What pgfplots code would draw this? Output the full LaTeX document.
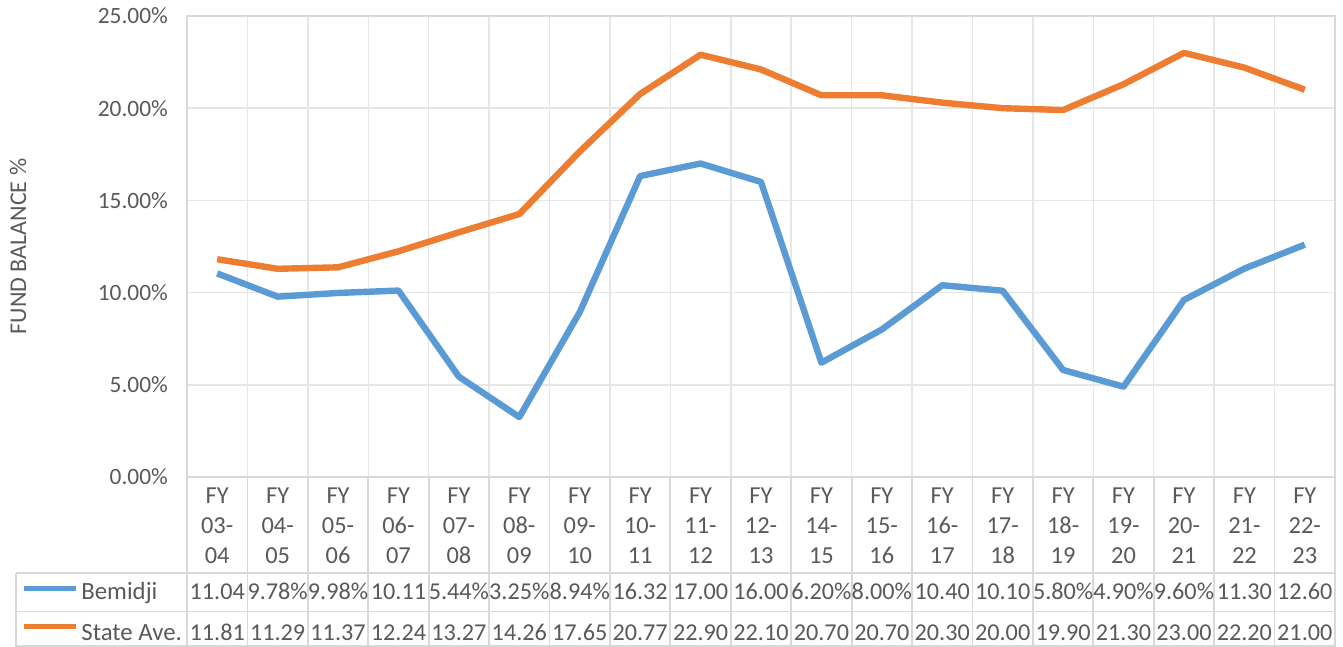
\documentclass[border=0pt]{standalone}
\usepackage{fontspec}
\setmainfont{Carlito}
\usepackage{pgfplots}
\pgfplotsset{compat=1.18}
\definecolor{bemblue}{HTML}{5B9BD5}
\definecolor{stateorange}{HTML}{ED7D31}
\definecolor{txtgray}{HTML}{595959}
\definecolor{gridgray}{HTML}{E6E6E6}
\definecolor{tablegray}{HTML}{D9D9D9}

\begin{document}
\begin{tikzpicture}
\begin{axis}[
  scale only axis,
  width=574pt, height=230.5pt,
  xmin=-0.5, xmax=18.5,
  ymin=0, ymax=25,
  xtick={0,...,18},
  xticklabels={{FY\\03-\\04},{FY\\04-\\05},{FY\\05-\\06},{FY\\06-\\07},{FY\\07-\\08},
    {FY\\08-\\09},{FY\\09-\\10},{FY\\10-\\11},{FY\\11-\\12},{FY\\12-\\13},
    {FY\\14-\\15},{FY\\15-\\16},{FY\\16-\\17},{FY\\17-\\18},{FY\\18-\\19},
    {FY\\19-\\20},{FY\\20-\\21},{FY\\21-\\22},{FY\\22-\\23}},
  minor xtick={-0.5,0.5,...,18.5},
  ytick={0,5,...,25},
  yticklabel={\pgfmathprintnumber[fixed,fixed zerofill,precision=2]{\tick}\%},
  /pgf/number format/assume math mode=true,
  major tick length=0pt, minor tick length=0pt,
  xminorgrids, ymajorgrids,
  minor grid style={gridgray, line width=0.75pt},
  major grid style={gridgray, line width=0.75pt},
  axis line style={tablegray, line width=0.9pt},
  tick label style={text=txtgray},
  yticklabel style={font=\fontsize{11.7}{13}\selectfont, xshift=-6pt},
  xticklabel style={font=\fontsize{12.2}{15}\selectfont, align=center, anchor=north, inner sep=0pt, yshift=-5.25pt},
  ylabel={FUND BALANCE \%},
  ylabel style={at={(axis description cs:-0.1472,0.5)}, anchor=center, text=txtgray, font=\fontsize{12}{14}\selectfont},
]
\addplot[bemblue, line width=3.2pt, line join=round] coordinates {
(0,11.04) (1,9.78) (2,9.98) (3,10.11) (4,5.44) (5,3.25) (6,8.94) (7,16.32) (8,17.00) (9,16.00)
(10,6.20) (11,8.00) (12,10.40) (13,10.10) (14,5.80) (15,4.90) (16,9.60) (17,11.30) (18,12.60)
};
\addplot[stateorange, line width=3.2pt, line join=round] coordinates {
(0,11.81) (1,11.29) (2,11.37) (3,12.24) (4,13.27) (5,14.26) (6,17.65) (7,20.77) (8,22.90) (9,22.10)
(10,20.70) (11,20.70) (12,20.30) (13,20.00) (14,19.90) (15,21.30) (16,23.00) (17,22.20) (18,21.00)
};
\coordinate (sw) at (rel axis cs:0,0);
\coordinate (ne) at (rel axis cs:1,1);
\end{axis}

% data table below the plot
\def\colw{30.2105}
\foreach \k in {0,...,19}
  \draw[tablegray, line width=0.9pt] ([xshift=\k*\colw pt]sw) -- ++(0,-85pt);
\foreach \yy in {48,67.25,84.6}
  \draw[tablegray, line width=0.9pt] ([shift={(-85.5pt,-\yy pt)}]sw) -- ++(659.5pt,0);
\draw[tablegray, line width=0.9pt] ([shift={(-85.5pt,-48pt)}]sw) -- ++(0,-37pt);

\foreach \v [count=\i from 0] in {11.04,9.78\%,9.98\%,10.11,5.44\%,3.25\%,8.94\%,16.32,17.00,16.00,
    6.20\%,8.00\%,10.40,10.10,5.80\%,4.90\%,9.60\%,11.30,12.60}
  \node[anchor=base, text=txtgray, font=\fontsize{12.1}{14}\selectfont, inner sep=0pt]
    at ([shift={(\i*\colw pt+0.5*\colw pt,-61.5pt)}]sw) {\v};
\foreach \v [count=\i from 0] in {11.81,11.29,11.37,12.24,13.27,14.26,17.65,20.77,22.90,22.10,
    20.70,20.70,20.30,20.00,19.90,21.30,23.00,22.20,21.00}
  \node[anchor=base, text=txtgray, font=\fontsize{12.1}{14}\selectfont, inner sep=0pt]
    at ([shift={(\i*\colw pt+0.5*\colw pt,-82pt)}]sw) {\v};

% legend keys in the table
\draw[bemblue, line width=2.5pt] ([shift={(-81.5pt,-56pt)}]sw) -- ++(26pt,0);
\node[anchor=base west, text=txtgray, font=\fontsize{12.4}{14}\selectfont, inner sep=0pt]
  at ([shift={(-53pt,-61.5pt)}]sw) {Bemidji};
\draw[stateorange, line width=2.5pt] ([shift={(-81.5pt,-75pt)}]sw) -- ++(26pt,0);
\node[anchor=base west, text=txtgray, font=\fontsize{12.4}{14}\selectfont, inner sep=0pt]
  at ([shift={(-53pt,-82pt)}]sw) {State Ave.};

\pgfresetboundingbox
\path[use as bounding box] ([shift={(-93.5pt,-85pt)}]sw) rectangle ([shift={(4pt,8pt)}]ne);
\end{tikzpicture}
\end{document}
